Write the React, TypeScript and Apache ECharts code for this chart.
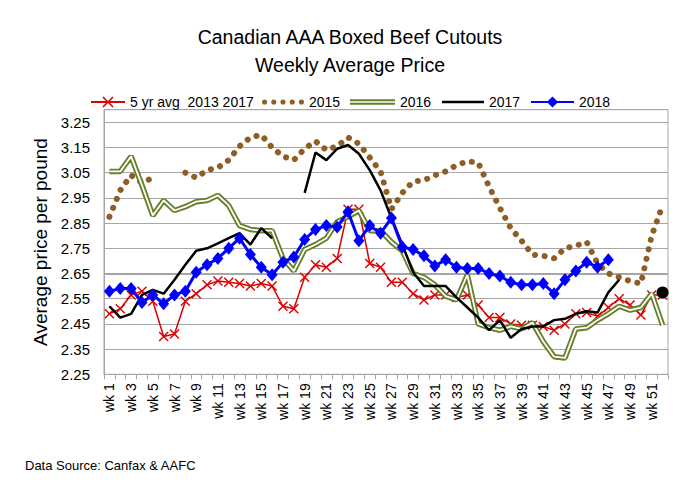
import React, { useEffect, useRef } from 'react';
import * as echarts from 'echarts';

const weeks = [
  'wk 1', 'wk 2', 'wk 3', 'wk 4', 'wk 5', 'wk 6', 'wk 7', 'wk 8', 'wk 9', 'wk 10',
  'wk 11', 'wk 12', 'wk 13', 'wk 14', 'wk 15', 'wk 16', 'wk 17', 'wk 18', 'wk 19', 'wk 20',
  'wk 21', 'wk 22', 'wk 23', 'wk 24', 'wk 25', 'wk 26', 'wk 27', 'wk 28', 'wk 29', 'wk 30',
  'wk 31', 'wk 32', 'wk 33', 'wk 34', 'wk 35', 'wk 36', 'wk 37', 'wk 38', 'wk 39', 'wk 40',
  'wk 41', 'wk 42', 'wk 43', 'wk 44', 'wk 45', 'wk 46', 'wk 47', 'wk 48', 'wk 49', 'wk 50',
  'wk 51', 'wk 52',
];

const avg5yr = [
  2.49, 2.51, 2.565, 2.58, 2.54, 2.4, 2.41, 2.54, 2.57, 2.605,
  2.62, 2.615, 2.61, 2.6, 2.61, 2.6, 2.52, 2.51, 2.635, 2.685,
  2.675, 2.71, 2.905, 2.905, 2.69, 2.675, 2.615, 2.615, 2.57, 2.545,
  2.565, 2.565, 2.555, 2.565, 2.525, 2.475, 2.475, 2.45, 2.445, 2.445,
  2.44, 2.425, 2.45, 2.49, 2.495, 2.48, 2.515, 2.55, 2.525, 2.485,
  2.565, 2.565,
];

const y2015 = [
  2.875, 2.98, 3.04, 3.01, 3.03, null, null, 3.05, 3.03, 3.06,
  3.07, 3.1, 3.155, 3.19, 3.2, 3.15, 3.115, 3.1, 3.145, 3.175,
  3.14, 3.155, 3.19, 3.165, 3.11, 3.055, 2.905, 2.97, 3.015, 3.02,
  3.04, 3.055, 3.08, 3.095, 3.09, 2.995, 2.91, 2.83, 2.78, 2.725,
  2.72, 2.71, 2.75, 2.76, 2.775, 2.69, 2.65, 2.635, 2.62, 2.61,
  2.8, 2.92,
];

const y2016 = [
  3.055, 3.055, 3.115, 3.0, 2.88, 2.94, 2.9, 2.915, 2.935, 2.94,
  2.96, 2.92, 2.84, 2.825, 2.82, 2.82, 2.71, 2.66, 2.745, 2.765,
  2.79, 2.855, 2.875, 2.9, 2.82, 2.82, 2.775, 2.74, 2.65, 2.635,
  2.605, 2.56, 2.545, 2.645, 2.45, 2.435, 2.425, 2.44, 2.43, 2.455,
  2.38, 2.32, 2.315, 2.43, 2.435, 2.465, 2.49, 2.52, 2.505, 2.515,
  2.57, 2.445,
];

const y2017 = [
  2.52, 2.475, 2.49, 2.565, 2.585, 2.57, 2.625, 2.685, 2.74, 2.75,
  2.77, 2.79, 2.81, 2.765, 2.83, 2.79, null, null, 2.97, 3.13,
  3.1, 3.145, 3.16, 3.125, 3.06, 2.98, 2.87, 2.765, 2.655, 2.6,
  2.6, 2.6, 2.555, 2.515, 2.475, 2.425, 2.465, 2.395, 2.43, 2.44,
  2.44, 2.465, 2.47, 2.49, 2.5, 2.495, 2.575, 2.625, null, null,
  null, 2.575,
];

const y2018 = [
  2.58, 2.59, 2.59, 2.535, 2.565, 2.53, 2.565, 2.58, 2.655, 2.685,
  2.71, 2.75, 2.79, 2.725, 2.675, 2.645, 2.695, 2.715, 2.785, 2.825,
  2.84, 2.835, 2.895, 2.78, 2.84, 2.81, 2.87, 2.755, 2.745, 2.72,
  2.68, 2.705, 2.675, 2.67, 2.67, 2.65, 2.64, 2.615, 2.605, 2.605,
  2.61, 2.57, 2.625, 2.66, 2.695, 2.675, 2.705, null, null, null,
  null, null,
];

const yTicks = ['2.25', '2.35', '2.45', '2.55', '2.65', '2.75', '2.85', '2.95', '3.05', '3.15', '3.25'];

const names = ['5 yr avg  2013 2017', '2015', '2016', '2017', '2018'];

const FONT = '"Liberation Sans", Arial, sans-serif';
const RED = '#dd0000';
const BROWN = '#8f5e24';
const OLIVE = '#66802a';
const BLACK = '#000000';
const BLUE = '#0000ff';
const GRID = '#a6a6a6';

export default function App() {
  const ref = useRef<HTMLDivElement>(null);

  useEffect(() => {
    document.body.style.margin = '0';
    const chart = echarts.init(ref.current as HTMLDivElement, null, { renderer: 'svg' });

    const xIcon = 'path://M0,1L1,0L5,4L9,0L10,1L6,5L10,9L9,10L5,6L1,10L0,9L4,5Z';
    const dotsIcon =
      'path://M0.5,3a2.5,2.5 0 1,0 5,0a2.5,2.5 0 1,0 -5,0Z' +
      'M9.5,3a2.5,2.5 0 1,0 5,0a2.5,2.5 0 1,0 -5,0Z' +
      'M18.5,3a2.5,2.5 0 1,0 5,0a2.5,2.5 0 1,0 -5,0Z' +
      'M27.5,3a2.5,2.5 0 1,0 5,0a2.5,2.5 0 1,0 -5,0Z' +
      'M36.5,3a2.5,2.5 0 1,0 5,0a2.5,2.5 0 1,0 -5,0Z';
    const doubleIcon = 'path://M0,0H45V1.9H0Z M0,3.5H45V5.4H0Z';
    const lineIcon = 'path://M0,0H42V2.5H0Z';

    const legendBase = {
      top: 95,
      itemHeight: 14,
      padding: 0,
      textStyle: { fontSize: 14, color: '#000', fontFamily: FONT },
      selectedMode: false as const,
    };

    const option: any = {
      animation: false,
      backgroundColor: '#fff',
      textStyle: { fontFamily: FONT },
      title: {
        text: 'Canadian AAA Boxed Beef Cutouts\nWeekly Average Price',
        left: 345,
        top: 18,
        textAlign: 'center',
        textStyle: { fontSize: 19.5, fontWeight: 'normal', lineHeight: 28, color: '#000', fontFamily: FONT },
      },
      legend: [
        { ...legendBase, left: 90, itemWidth: 34, data: [names[0]] },
        { ...legendBase, left: 262, itemWidth: 42, data: [{ name: names[1], icon: dotsIcon }] },
        { ...legendBase, left: 350, itemWidth: 45, data: [{ name: names[2], icon: doubleIcon }] },
        { ...legendBase, left: 442, itemWidth: 42, data: [{ name: names[3], icon: lineIcon }] },
        { ...legendBase, left: 530, itemWidth: 43, data: [names[4]] },
      ],
      grid: {
        left: 104,
        right: 13,
        top: 109.7,
        bottom: 109.7,
        show: true,
        borderColor: GRID,
        borderWidth: 1,
      },
      xAxis: {
        type: 'category',
        data: weeks,
        boundaryGap: true,
        axisLine: { lineStyle: { color: GRID, width: 1 } },
        axisTick: { show: true, interval: 0, length: 5, lineStyle: { color: GRID } },
        axisLabel: { interval: 1, rotate: 90, margin: 9, fontSize: 14, color: '#000', fontFamily: FONT },
        splitLine: { show: false },
      },
      yAxis: {
        type: 'value',
        min: 2.25,
        max: 3.3,
        interval: 0.1,
        name: 'Average price per pound',
        nameLocation: 'middle',
        nameGap: 52,
        nameTextStyle: { fontSize: 19, color: '#000', fontFamily: FONT },
        axisLine: { show: true, lineStyle: { color: GRID } },
        axisTick: { show: false },
        axisLabel: {
          margin: 14,
          fontSize: 15,
          color: '#000',
          fontFamily: FONT,
          formatter: (v: number) => {
            const s = v.toFixed(2);
            return yTicks.indexOf(s) >= 0 ? s : '';
          },
        },
        splitLine: { show: true, lineStyle: { color: GRID, width: 1 } },
      },
      series: [
        {
          name: names[0],
          type: 'line',
          data: avg5yr,
          symbol: xIcon,
          symbolSize: 10,
          showAllSymbol: true,
          itemStyle: { color: RED },
          lineStyle: { color: RED, width: 1.5 },
          z: 2,
          markLine: {
            silent: true,
            symbol: 'none',
            z: 1,
            label: { show: false },
            lineStyle: { color: GRID, width: 2, type: 'solid' },
            data: [{ yAxis: 2.65 }],
          },
        },
        {
          name: names[1],
          type: 'line',
          data: y2015,
          symbol: 'none',
          itemStyle: { color: BROWN },
          lineStyle: { color: BROWN, width: 6, type: [0.1, 9.6], cap: 'round' },
          z: 3,
        },
        {
          name: names[2],
          type: 'line',
          data: y2016,
          symbol: 'none',
          itemStyle: { color: OLIVE },
          lineStyle: { color: OLIVE, width: 5.5 },
          z: 4,
        },
        {
          name: '2016 inner',
          type: 'line',
          data: y2016,
          symbol: 'none',
          silent: true,
          itemStyle: { color: '#fff' },
          lineStyle: { color: '#ffffff', width: 1.8 },
          z: 5,
        },
        {
          name: names[3],
          type: 'line',
          data: y2017.map((v, i) =>
            i === y2017.length - 1 ? { value: v, symbol: 'circle', symbolSize: 12 } : v
          ),
          symbol: 'none',
          showAllSymbol: true,
          itemStyle: { color: BLACK },
          lineStyle: { color: BLACK, width: 2.5 },
          z: 6,
        },
        {
          name: names[4],
          type: 'line',
          data: y2018,
          symbol: 'diamond',
          symbolSize: [11, 13],
          showAllSymbol: true,
          itemStyle: { color: BLUE },
          lineStyle: { color: BLUE, width: 3 },
          z: 7,
        },
      ],
      graphic: [
        {
          type: 'text',
          left: 25,
          top: 459,
          style: { text: 'Data Source: Canfax & AAFC', fontSize: 13, fill: '#000', font: `13px ${FONT}` },
        },
      ],
    };

    chart.setOption(option);
    return () => {
      chart.dispose();
    };
  }, []);

  return <div ref={ref} style={{ width: 681, height: 484 }} />;
}
